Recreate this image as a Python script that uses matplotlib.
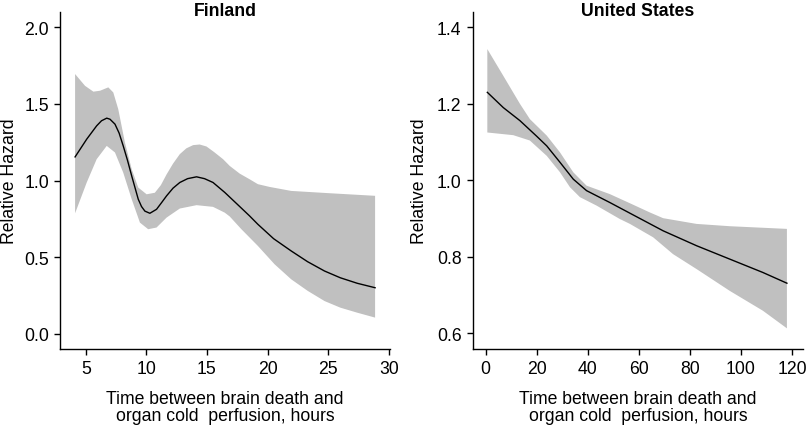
import matplotlib
matplotlib.use('Agg')
import matplotlib.pyplot as plt

plt.rcParams['font.family'] = ['Liberation Sans', 'DejaVu Sans']

# Finland: estimate and 95% band (hours, relative hazard)
fi_x = [4.12, 5.08, 5.9, 6.3, 6.73, 7.0, 7.41, 7.75, 8.09, 8.45, 8.79, 9.33, 9.6, 9.88, 10.29, 10.84, 11.25, 11.67,
        12.2, 12.76, 13.4, 14.14, 14.8, 15.5, 16.47, 17.3, 18.5, 19.2, 20.5, 21.95, 23.3, 24.7, 26.0, 27.4, 28.87]
fi_y = [1.154, 1.27, 1.357, 1.39, 1.407, 1.40, 1.368, 1.31, 1.226, 1.13, 1.03, 0.878, 0.83, 0.80, 0.786, 0.812, 0.855, 0.90,
        0.95, 0.987, 1.012, 1.024, 1.012, 0.987, 0.922, 0.86, 0.77, 0.714, 0.62, 0.54, 0.47, 0.409, 0.365, 0.329, 0.30]

fi_up_x = [4.12, 4.94, 5.63, 6.18, 6.86, 7.27, 7.68, 8.23, 8.79, 9.33, 10.02, 10.7, 11.2, 11.67, 12.2, 12.76, 13.3,
           13.86, 14.4, 14.96, 15.6, 16.33, 16.88, 17.7, 18.52, 19.2, 20.17, 21.95, 25.1, 28.87]
fi_upper = [1.695, 1.618, 1.58, 1.586, 1.608, 1.575, 1.466, 1.248, 1.074, 0.954, 0.91, 0.92, 0.97, 1.04, 1.11, 1.172, 1.21,
            1.231, 1.235, 1.222, 1.185, 1.139, 1.095, 1.045, 1.008, 0.976, 0.958, 0.932, 0.917, 0.90]

fi_lo_x = [4.12, 5.08, 5.9, 6.73, 7.41, 8.09, 8.79, 9.47, 10.15, 10.84, 11.67, 12.76, 14.14, 15.5, 16.47, 16.88, 17.84,
           19.2, 20.58, 21.95, 23.3, 24.7, 26.0, 27.4, 28.87]
fi_lower = [0.786, 0.987, 1.139, 1.226, 1.183, 1.052, 0.878, 0.725, 0.682, 0.693, 0.758, 0.817, 0.839, 0.828, 0.79, 0.765, 0.682,
            0.573, 0.453, 0.355, 0.28, 0.213, 0.17, 0.137, 0.105]

# United States: estimate and 95% band
us_x = [0.63, 6.9, 13.4, 20.0, 23.9, 29.1, 34.3, 39.5, 48.6, 56.5, 69.5, 82.6, 95.6, 108.6, 118.0]
us_y = [1.230, 1.19, 1.156, 1.115, 1.090, 1.047, 1.003, 0.973, 0.942, 0.914, 0.868, 0.829, 0.794, 0.759, 0.731]

us_up_x = [0.63, 6.9, 13.4, 17.3, 23.9, 29.1, 34.3, 39.5, 48.6, 56.5, 64.3, 69.5, 82.6, 95.6, 118.0]
us_upper = [1.343, 1.273, 1.2, 1.16, 1.117, 1.073, 1.021, 0.986, 0.964, 0.94, 0.916, 0.901, 0.886, 0.880, 0.873]

us_lo_x = [0.63, 10.8, 17.3, 23.9, 29.1, 33.0, 36.9, 43.4, 52.5, 56.5, 59.1, 65.6, 73.4, 82.6, 95.6, 108.6, 118.0]
us_lower = [1.125, 1.118, 1.104, 1.064, 1.021, 0.982, 0.956, 0.934, 0.899, 0.886, 0.876, 0.851, 0.807, 0.768, 0.711, 0.659, 0.613]

fig = plt.figure(figsize=(8.07, 4.27), dpi=100)
ax1 = fig.add_axes([60.3 / 807, 77 / 427, 329.7 / 807, 337 / 427])
ax2 = fig.add_axes([472.7 / 807, 77 / 427, 330.3 / 807, 337 / 427])

band_color = '#c0c0c0'

# band drawn as polygon: upper edge left->right, lower edge right->left
ax1.fill(fi_up_x + fi_lo_x[::-1], fi_upper + fi_lower[::-1], color=band_color, lw=0)
ax1.plot(fi_x, fi_y, color='black', lw=1.0)
ax1.set_xlim(2.9, 30.1)
ax1.set_ylim(-0.10, 2.10)
ax1.set_xticks([5, 10, 15, 20, 25, 30])
ax1.set_yticks([0.0, 0.5, 1.0, 1.5, 2.0])
ax1.set_yticklabels(['0.0', '0.5', '1.0', '1.5', '2.0'])

ax2.fill(us_up_x + us_lo_x[::-1], us_upper + us_lower[::-1], color=band_color, lw=0)
ax2.plot(us_x, us_y, color='black', lw=1.0)
ax2.set_xlim(-5.1, 124.3)
ax2.set_ylim(0.559, 1.44)
ax2.set_xticks([0, 20, 40, 60, 80, 100, 120])
ax2.set_yticks([0.6, 0.8, 1.0, 1.2, 1.4])

for ax, title, ylab_x in [(ax1, 'Finland', -0.128), (ax2, 'United States', -0.135)]:
    ax.spines['top'].set_visible(False)
    ax.spines['right'].set_visible(False)
    ax.spines['left'].set_linewidth(1.0)
    ax.spines['bottom'].set_linewidth(1.0)
    ax.tick_params(direction='out', length=4, width=1.0, labelsize=12.7, pad=4, colors='black')
    ax.set_ylabel('Relative Hazard', fontsize=12.7)
    ax.yaxis.set_label_coords(ylab_x, 0.5)
    ax.set_xlabel('Time between brain death and\norgan cold  perfusion, hours', fontsize=12.7,
                  labelpad=9, linespacing=1.05)
    ax.text(0.5, 1.005, title, transform=ax.transAxes, ha='center', va='center',
            fontsize=12.7, fontweight='bold')

fig.savefig('out.png', dpi=100, facecolor='white')
